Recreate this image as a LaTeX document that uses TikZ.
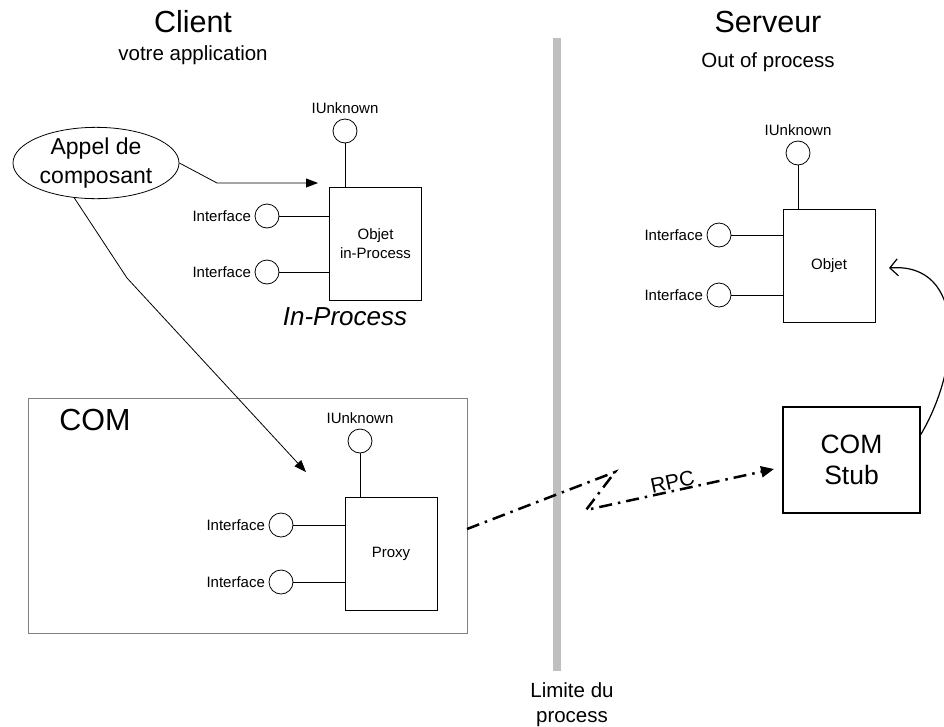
\documentclass[tikz,border=0pt]{standalone}
\usepackage{fontspec}
\setmainfont{Liberation Sans}
\usetikzlibrary{
    arrows.meta,
    positioning,
    shapes.geometric
}

\begin{document}
\begin{tikzpicture}[x=1pt,y=-1pt,line width=0.8pt,
    objbox/.style={draw,minimum width=92pt,minimum height=113pt,align=center,
        font=\fontsize{15}{19}\selectfont},
    port/.style={draw,circle,minimum size=24pt,inner sep=0pt},
    small/.style={font=\fontsize{15}{18}\selectfont},
    sub/.style={font=\fontsize{20.5}{24}\selectfont},
    big/.style={font=\fontsize{30.5}{34}\selectfont},
    call/.style={-{Triangle[length=12pt,width=9pt]}},
    rpc/.style={line width=2.5pt,dash pattern=on 13pt off 6pt on 2.5pt off 6pt}
]
\useasboundingbox (0,0) rectangle (944,726);

% Process boundary
\fill[gray!50] (553,38) rectangle (561,671);
\node[font=\fontsize{20.5}{25}\selectfont,align=center] (limit) at (572,705) {Limite du\\process};

% Titles
\node[big] (client) at (193,22) {Client};
\node[sub] (clientsub) at (193,55) {votre application};
\node[big] (server) at (768,22) {Serveur};
\node[sub] (serversub) at (768,62) {Out of process};

% Caller
\node[draw,ellipse,minimum width=166pt,minimum height=64pt,inner sep=0pt,align=center,
    font=\fontsize{23}{29}\selectfont] (appel) at (96,163) {Appel de\\composant};

% In-process object
\node[objbox] (inproc) at (375.5,243.5) {Objet\\in-Process};
\node[port,label={[small,label distance=1pt]above:IUnknown}] (inunk) at (345,131) {};
\node[port,label={[small]left:Interface}] (inia) at (267,216) {};
\node[port,label={[small]left:Interface}] (inib) at (267,272) {};
\draw (inunk) -- (inunk |- inproc.north);
\draw (inia) -- (inia -| inproc.west);
\draw (inib) -- (inib -| inproc.west);
\node[font=\fontsize{26}{30}\selectfont\itshape] (inlabel) at (345,317) {In-Process};

% COM runtime with the proxy
\node[draw=gray,minimum width=439pt,minimum height=235pt] (com) at (247.5,515.5) {};
\node[big] (comlabel) at (95,420) {COM};
\node[objbox] (proxy) at (391,553.5) {Proxy};
\node[port,label={[small,label distance=1pt]above:IUnknown}] (pxunk) at (360,441) {};
\node[port,label={[small]left:Interface}] (pxia) at (281,525) {};
\node[port,label={[small]left:Interface}] (pxib) at (281,582) {};
\draw (pxunk) -- (pxunk |- proxy.north);
\draw (pxia) -- (pxia -| proxy.west);
\draw (pxib) -- (pxib -| proxy.west);

% Server object
\node[objbox] (srvobj) at (829,266) {Objet};
\node[port,label={[small,label distance=1pt]above:IUnknown}] (srvunk) at (798,153) {};
\node[port,label={[small]left:Interface}] (srvia) at (719,235) {};
\node[port,label={[small]left:Interface}] (srvib) at (719,295) {};
\draw (srvunk) -- (srvunk |- srvobj.north);
\draw (srvia) -- (srvia -| srvobj.west);
\draw (srvib) -- (srvib -| srvobj.west);

% Stub
\node[draw,line width=1.2pt,minimum width=137pt,minimum height=106pt,align=center,
    font=\fontsize{26.5}{31}\selectfont] (stub) at (851.5,460) {COM\\Stub};

% Calls
\coordinate (bend) at (217,183);
\coordinate (intip) at (318,183);
\coordinate (kink) at (127,278);
\coordinate (pxtip) at (306,472);
\draw[call] (appel.east) -- (bend) -- (intip);
\draw[call] (appel.-122) -- (kink) -- (pxtip);

% RPC link, broken at the boundary
\coordinate (rpcstart) at (467,529);
\coordinate (brka) at (615,472);
\coordinate (brkb) at (586,510);
\coordinate (stubin) at (774,469);
\draw[rpc,-{Triangle[length=13pt,width=11pt]}] (rpcstart) -- (brka) -- (brkb) -- (stubin);
\path (brkb) -- (stubin) node[pos=0.47,sloped,above,inner sep=1.5pt,
    font=\fontsize{21}{24}\selectfont] (rpc) {RPC};

% Back to the object
\coordinate (backtip) at (889,268);
\draw[line width=1.2pt,-{Straight Barb[length=8pt,width=17pt]}]
    (stub.20) .. controls (962,365) and (966,262) .. (backtip);

\end{tikzpicture}
\end{document}
